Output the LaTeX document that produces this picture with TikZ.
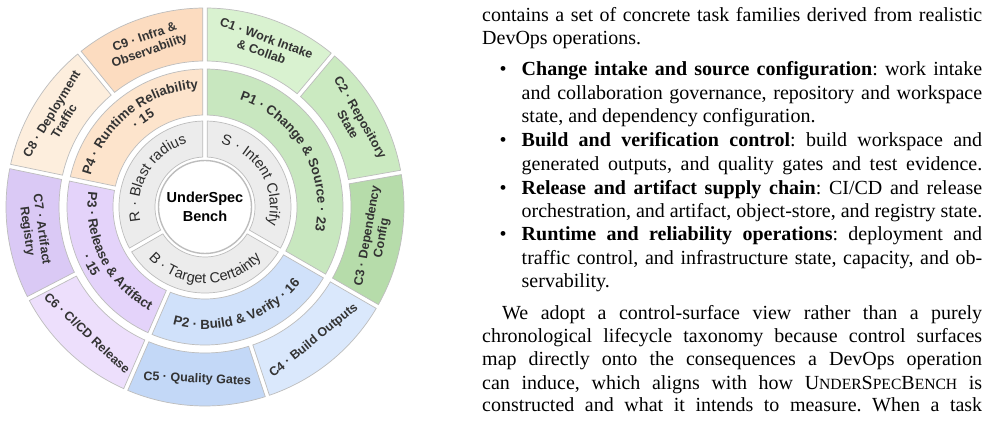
\documentclass[tikz,border=0pt]{standalone}
\usepackage{fontspec}
\setmainfont{Liberation Serif}
\setsansfont{Liberation Sans}
\usetikzlibrary{decorations.text}
\definecolor{txt}{HTML}{333333}
\definecolor{ringtxt}{HTML}{2B2B2B}
\definecolor{ringgray}{HTML}{ECECEC}
\definecolor{segedge}{HTML}{BDBDBD}
\definecolor{cA}{HTML}{D9F2D0}
\definecolor{cB}{HTML}{CBEAC1}
\definecolor{cC}{HTML}{B6DCAA}
\definecolor{pA}{HTML}{C8E7BF}
\definecolor{cD}{HTML}{DAE8FC}
\definecolor{cE}{HTML}{C3D8F7}
\definecolor{pB}{HTML}{D0E1FA}
\definecolor{cF}{HTML}{EDDFFC}
\definecolor{cG}{HTML}{DAC9F5}
\definecolor{pC}{HTML}{E4D3FA}
\definecolor{cH}{HTML}{FDEEDD}
\definecolor{cI}{HTML}{FCDCC0}
\definecolor{pD}{HTML}{FDE4CC}
\newcommand\ringseg[5]{%
  \pgfmathsetmacro\segGa{asin(2.2/#2)}%
  \pgfmathsetmacro\segGb{asin(2.2/#3)}%
  \pgfmathsetmacro\segA{#4+\segGa}\pgfmathsetmacro\segB{#5-\segGa}%
  \pgfmathsetmacro\segC{#5-\segGb}\pgfmathsetmacro\segD{#4+\segGb}%
  \filldraw[segline, fill=#1] (\segA:#2) arc[start angle=\segA, end angle=\segB, radius=#2]
    -- (\segC:#3) arc[start angle=\segC, end angle=\segD, radius=#3] -- cycle;}
\newcommand\pfont{\sffamily\bfseries\fontsize{13.3}{13.3}\selectfont}
\newcommand\rfont{\sffamily\fontsize{14.6}{14.6}\selectfont}
\newcommand\scf[1]{{\fontsize{15.6}{20}\selectfont #1}}
\tikzset{
  segline/.style={draw=segedge, line width=0.7pt},
  clabel/.style={font=\sffamily\bfseries\fontsize{12.5}{14.5}\selectfont, text=txt, align=center, inner sep=0pt},
  body/.style={anchor=base west, inner sep=0pt, font=\frenchspacing\fontsize{20}{24}\selectfont},
  bul/.style={anchor=base, inner sep=0pt, font=\fontsize{20}{24}\selectfont},
  arctext/.style={decorate, decoration={text along path, text align=center, text color=txt, text={#1}}},
  ringtext/.style={decorate, decoration={text along path, text align=center, text color=ringtxt, text={#1}}}
}
\begin{document}
\begin{tikzpicture}[x=1pt,y=1pt]
\useasboundingbox (0,0) rectangle (990,422);
\fill[white] (0,0) rectangle (990,422);
\begin{scope}[shift={(205,215)}]
% gray ring
\ringseg{ringgray}{50}{86}{-30}{90}
\ringseg{ringgray}{50}{86}{90}{210}
\ringseg{ringgray}{50}{86}{210}{330}
% P ring
\ringseg{pA}{92}{138}{-30}{90}
\ringseg{pB}{92}{138}{-113.478}{-30}
\ringseg{pC}{92}{138}{168.261}{246.522}
\ringseg{pD}{92}{138}{90}{168.261}
% C ring
\ringseg{cA}{146}{199}{50}{90}
\ringseg{cB}{146}{199}{10}{50}
\ringseg{cC}{146}{199}{-30}{10}
\ringseg{cD}{146}{199}{-71.739}{-30}
\ringseg{cE}{146}{199}{-113.478}{-71.739}
\ringseg{cF}{146}{199}{207.391}{246.522}
\ringseg{cG}{146}{199}{168.261}{207.391}
\ringseg{cH}{146}{199}{129.130}{168.261}
\ringseg{cI}{146}{199}{90}{129.130}
% centre
\node[circle, fill=white, draw=segedge, line width=1.4pt, minimum size=93pt, inner sep=0pt,
  align=center, font=\sffamily\bfseries\fontsize{14.5}{18.5}\selectfont] (core) at (0,0) {UnderSpec\\Bench};
% inner ring texts
\path[ringtext={|\rfont|S · Intent Clarify}] (88:65) arc[start angle=88, end angle=-28, radius=65];
\path[ringtext={|\rfont|R · Blast radius}] (206:66) arc[start angle=206, end angle=92, radius=66];
\path[ringtext={|\rfont|B · Target Certainty}] (-148:76.5) arc[start angle=-148, end angle=-32, radius=76.5];
% P ring texts
\path[arctext={|\pfont|P1 · Change {\&} Source · 23}] (88:112.5) arc[start angle=88, end angle=-28, radius=112.5];
\path[arctext={|\pfont|P2 · Build {\&} Verify · 16}] (-111:122) arc[start angle=-111, end angle=-33, radius=122];
\path[arctext={|\pfont|P3 · Release {\&} Artifact}] (170:117.5) arc[start angle=170, end angle=244, radius=117.5];
\path[arctext={|\pfont|· 15}] (190:132.5) arc[start angle=190, end angle=224, radius=132.5];
\path[arctext={|\pfont|P4 · Runtime Reliability}] (166:118.5) arc[start angle=166, end angle=92, radius=118.5];
\path[arctext={|\pfont|· 15}] (140:103.5) arc[start angle=140, end angle=110, radius=103.5];
% C ring labels
\node[clabel, rotate=-20] (c1t) at (70:172.5) {C1 · Work Intake\\\& Collab};
\node[clabel, rotate=-60] (c2t) at (30:172.5) {C2 · Repository\\State};
\node[clabel, rotate=80] (c3t) at (-10:172.5) {C3 · Dependency\\Config};
\node[clabel, rotate=39.13] (c4t) at (-50.87:172.5) {C4 · Build Outputs};
\node[clabel, rotate=-2.6] (c5t) at (-92.6:172.5) {C5 · Quality Gates};
\node[clabel, rotate=-43.04] (c6t) at (226.96:172.5) {C6 · CI/CD Release};
\node[clabel, rotate=-82.17] (c7t) at (187.83:172.5) {C7 · Artifact\\Registry};
\node[clabel, rotate=58.7] (c8t) at (148.7:172.5) {C8 · Deployment\\Traffic};
\node[clabel, rotate=19.57] (c9t) at (109.57:172.5) {C9 · Infra \&\\Observability};
\end{scope}
% right column text
\node[body] (l1) at (482,400.3) {\makebox[500pt][s]{contains a set of concrete task families derived from realistic}};
\node[body] (l2) at (482,377.2) {DevOps operations.};
\node[bul] (b1) at (503,346) {\textbullet};
\node[body] (l3) at (521.5,346) {\makebox[460.5pt][s]{\textbf{Change intake and source configuration}: work intake}};
\node[body] (l4) at (521.5,322.7) {\makebox[460.5pt][s]{and collaboration governance, repository and workspace}};
\node[body] (l5) at (521.5,299.3) {state, and dependency configuration.};
\node[bul] (b2) at (503,275.3) {\textbullet};
\node[body] (l6) at (521.5,275.3) {\makebox[460.5pt][s]{\textbf{Build and verification control}: build workspace and}};
\node[body] (l7) at (521.5,251.7) {\makebox[460.5pt][s]{generated outputs, and quality gates and test evidence.}};
\node[bul] (b3) at (503,227.7) {\textbullet};
\node[body] (l8) at (521.5,227.7) {\makebox[460.5pt][s]{\textbf{Release and artifact supply chain}: CI/CD and release}};
\node[body] (l9) at (521.5,204.3) {\makebox[460.5pt][s]{orchestration, and artifact, object-store, and registry state.}};
\node[bul] (b4) at (503,181.3) {\textbullet};
\node[body] (l10) at (521.5,181.3) {\makebox[460.5pt][s]{\textbf{Runtime and reliability operations}: deployment and}};
\node[body] (l11) at (521.5,157.7) {\makebox[460.5pt][s]{traffic control, and infrastructure state, capacity, and ob-}};
\node[body] (l12) at (521.5,134.3) {servability.};
\node[body] (l13) at (502,102.7) {\makebox[480pt][s]{We adopt a control-surface view rather than a purely}};
\node[body] (l14) at (482,79.3) {\makebox[500pt][s]{chronological lifecycle taxonomy because control surfaces}};
\node[body] (l15) at (482,56) {\makebox[500pt][s]{map directly onto the consequences a DevOps operation}};
\node[body] (l16) at (482,32.7) {\makebox[500pt][s]{can induce, which aligns with how U\scf{NDER}S\scf{PEC}B\scf{ENCH} is}};
\node[body] (l17) at (482,10.3) {\makebox[500pt][s]{constructed and what it intends to measure. When a task}};
\end{tikzpicture}
\end{document}
